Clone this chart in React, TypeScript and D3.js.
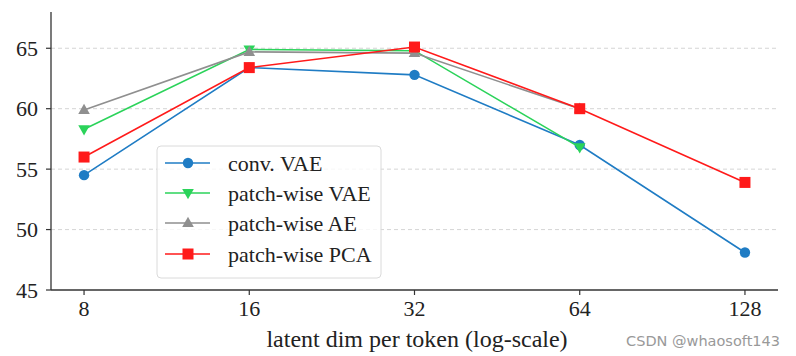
import React from "react";
import * as d3 from "d3";

const xTicks = [8, 16, 32, 64, 128];
const yTicks = [45, 50, 55, 60, 65];
const seriesNames = ["conv. VAE", "patch-wise VAE", "patch-wise AE", "patch-wise PCA"];
const convVAE = [54.5, 63.4, 62.8, 57.0, 48.1];
const patchVAE = [58.3, 64.9, 64.8, 56.8];
const patchAE = [59.9, 64.7, 64.6, 60.0];
const patchPCA = [56.0, 63.4, 65.1, 60.0, 53.9];
const colors = ["#1f7cc4", "#2bd35a", "#8f8f8f", "#ff1a1a"];
const markers = ["circle", "tridown", "triup", "square"];

const W = 796, H = 356;
const left = 51, right = 778, top = 12, bottom = 290;
const FONT = "'Liberation Serif', 'Times New Roman', serif";

function Marker({ type, x, y, color }: { type: string; x: number; y: number; color: string }) {
  const r = 5.2;
  if (type === "circle") return <circle cx={x} cy={y} r={r} fill={color} />;
  if (type === "square") return <rect x={x - 5.5} y={y - 5.5} width={11} height={11} fill={color} />;
  if (type === "triup")
    return <path d={`M${x},${y - 6.2}L${x + 5.8},${y + 4}L${x - 5.8},${y + 4}Z`} fill={color} />;
  return <path d={`M${x},${y + 6.2}L${x + 5.8},${y - 4}L${x - 5.8},${y - 4}Z`} fill={color} />;
}

export default function App() {
  const x = d3.scaleLog().base(2).domain([Math.pow(2, 2.8), Math.pow(2, 7.2)]).range([left, right]);
  const y = d3.scaleLinear().domain([45, 68]).range([bottom, top]);
  const all = [convVAE, patchVAE, patchAE, patchPCA];
  const line = d3.line<[number, number]>().x((d) => x(d[0])).y((d) => y(d[1]));

  const legX = 157, legY = 146, legW = 224, legH = 132;
  const rowY = [163, 193, 223, 254];

  return (
    <svg width={W} height={H} style={{ position: "absolute", left: 0, top: 0, background: "#fff" }}>
      {yTicks.slice(1).map((t) => (
        <line key={t} x1={left} x2={right} y1={y(t)} y2={y(t)} stroke="#d0d0d0" strokeWidth={0.9} strokeDasharray="4,3" />
      ))}
      {all.map((vals, i) => (
        <g key={i}>
          <path d={line(vals.map((v, j) => [xTicks[j], v]) as [number, number][]) || ""} fill="none" stroke={colors[i]} strokeWidth={1.6} />
          {vals.map((v, j) => (
            <Marker key={j} type={markers[i]} x={x(xTicks[j])} y={y(v)} color={colors[i]} />
          ))}
        </g>
      ))}
      <line x1={left} x2={left} y1={top} y2={bottom} stroke="#333" strokeWidth={1.3} />
      <line x1={left} x2={right} y1={bottom} y2={bottom} stroke="#333" strokeWidth={1.3} />
      {yTicks.map((t) => (
        <g key={t}>
          <line x1={left - 5} x2={left} y1={y(t)} y2={y(t)} stroke="#333" strokeWidth={1.2} />
          <text x={left - 13} y={y(t)} dy="0.35em" textAnchor="end" fontFamily={FONT} fontSize={22} fill="#222">{t}</text>
        </g>
      ))}
      {xTicks.map((t) => (
        <g key={t}>
          <line x1={x(t)} x2={x(t)} y1={bottom} y2={bottom + 5} stroke="#333" strokeWidth={1.2} />
          <text x={x(t)} y={bottom + 26} textAnchor="middle" fontFamily={FONT} fontSize={22} fill="#222">{t}</text>
        </g>
      ))}
      <text x={417} y={347} textAnchor="middle" fontFamily={FONT} fontSize={24} fill="#222">latent dim per token (log-scale)</text>
      <rect x={legX} y={legY} width={legW} height={legH} rx={4} fill="#fff" fillOpacity={0.8} stroke="#dadada" strokeWidth={1} />
      {seriesNames.map((n, i) => (
        <g key={n}>
          <line x1={165} x2={210} y1={rowY[i]} y2={rowY[i]} stroke={colors[i]} strokeWidth={1.6} />
          <Marker type={markers[i]} x={188} y={rowY[i]} color={colors[i]} />
          <text x={228} y={rowY[i]} dy="0.35em" fontFamily={FONT} fontSize={22} fill="#222">{n}</text>
        </g>
      ))}
      <text x={780} y={346} textAnchor="end" fontFamily="'DejaVu Sans', sans-serif" fontSize={14.5} fill="#999">CSDN @whaosoft143</text>
    </svg>
  );
}
